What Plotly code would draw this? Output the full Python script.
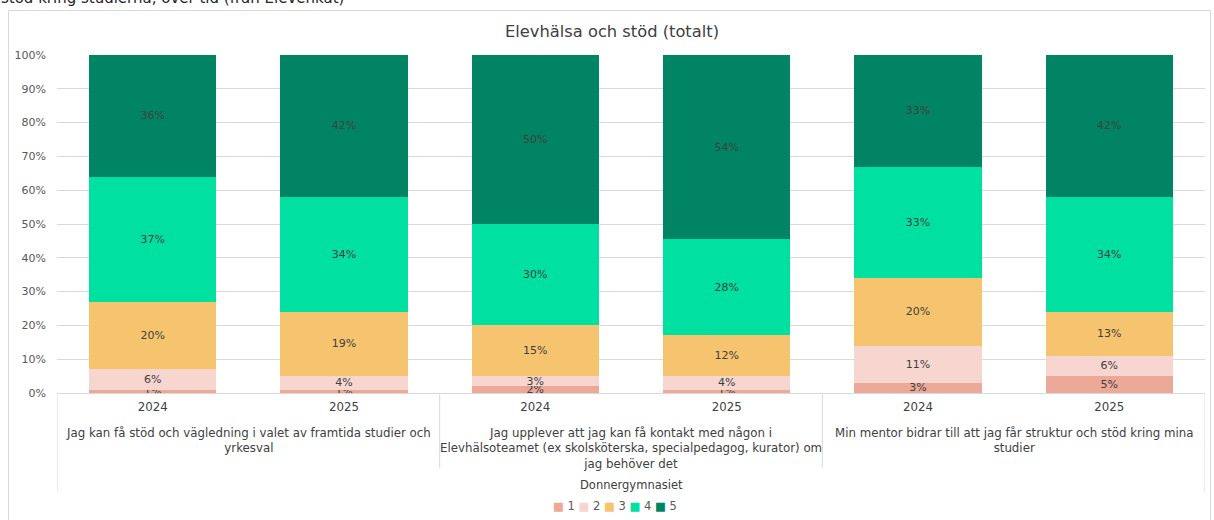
import plotly.graph_objects as go

# ---- data ----
years = ["2024", "2025", "2024", "2025", "2024", "2025"]
questions = [
    "Jag kan få stöd och vägledning i valet av framtida studier och<br>yrkesval",
    "Jag upplever att jag kan få kontakt med någon i<br>Elevhälsoteamet (ex skolsköterska, specialpedagog, kurator) om<br>jag behöver det",
    "Min mentor bidrar till att jag får struktur och stöd kring mina<br>studier",
]
school = "Donnergymnasiet"
series_names = ["1", "2", "3", "4", "5"]
v1 = [1, 1, 2, 1, 3, 5]
v2 = [6, 4, 3, 4, 11, 6]
v3 = [20, 19, 15, 12, 20, 13]
v4 = [37, 34, 30, 28, 33, 34]
v5 = [36, 42, 50, 54, 33, 42]
values = [v1, v2, v3, v4, v5]
colors = ["#EDA998", "#F8D6D0", "#F6C46E", "#00E0A0", "#008464"]
chart_title = "Elevhälsa och stöd (totalt)"
page_heading = "stöd kring studierna, över tid (från Elevenkät)"

FONT = "DejaVu Sans"
W, H = 1214, 520
L, R, T, B = 57, 9, 55, 127
PW, PH = W - L - R, H - T - B

def px_x(p):
    return (p - L) / PW

def px_y(p):
    return (H - B - p) / PH

xs = list(range(len(years)))
fig = go.Figure()
for name, vals, col in zip(series_names, values, colors):
    fig.add_trace(go.Bar(
        x=xs, y=vals, name=name, marker=dict(color=col, line=dict(width=0)),
        text=[f"{v}%" for v in vals], textposition="inside", insidetextanchor="middle",
        textangle=0, textfont=dict(family=FONT, size=11, color="#404040"),
        hoverinfo="skip", showlegend=False,
    ))

shapes = []
for gx, bottom in [(-0.5, 492), (1.5, 468), (3.5, 468), (5.5, 492)]:
    shapes.append(dict(type="line", xref="x", yref="paper", x0=gx, x1=gx,
                       y0=0, y1=px_y(bottom), line=dict(color="#D9D9D9", width=1)))
shapes.append(dict(type="rect", xref="paper", yref="paper",
                   x0=px_x(8.5), x1=px_x(1210.5), y0=px_y(530), y1=px_y(10.5),
                   line=dict(color="#D9D9D9", width=1), fillcolor="rgba(0,0,0,0)", layer="below"))

annotations = []
for i, q in enumerate(questions):
    annotations.append(dict(x=2 * i + 0.5, xref="x", y=px_y(424), yref="paper",
                            text=q, showarrow=False, yanchor="top", xanchor="center",
                            align="center", font=dict(family=FONT, size=11.8, color="#404040")))
annotations.append(dict(x=2.5, xref="x", y=px_y(485), yref="paper", text=school,
                        showarrow=False, yanchor="middle", font=dict(family=FONT, size=11.5, color="#404040")))
annotations.append(dict(x=px_x(612), xref="paper", y=px_y(31), yref="paper", text=chart_title,
                        showarrow=False, yanchor="middle", font=dict(family=FONT, size=16.3, color="#404040")))
annotations.append(dict(x=px_x(-1), xref="paper", xanchor="left", y=px_y(-2), yref="paper",
                        text=page_heading, showarrow=False, yanchor="middle",
                        font=dict(family=FONT, size=15, color="#262626")))
# legend drawn as text with coloured squares
legend_text = "&nbsp;".join(
    f"<span style='color:{c}'>■</span>&nbsp;{n}" for n, c in zip(series_names, colors))
annotations.append(dict(x=px_x(615), xref="paper", y=px_y(506), yref="paper", text=legend_text,
                        showarrow=False, xanchor="center", yanchor="middle",
                        font=dict(family=FONT, size=11.5, color="#595959")))

fig.update_layout(
    width=W, height=H, barmode="stack", barnorm="percent", bargap=0.335,
    margin=dict(l=L, r=R, t=T, b=B, autoexpand=False),
    paper_bgcolor="white", plot_bgcolor="white",
    font=dict(family=FONT, color="#595959"),
    uniformtext=dict(minsize=11, mode="show"),
    shapes=shapes, annotations=annotations, showlegend=False,
    xaxis=dict(range=[-0.5, 5.5], tickmode="array", tickvals=xs, ticktext=years,
               showgrid=False, showline=True, linecolor="#D9D9D9", ticks="",
               ticklabelstandoff=3,
               tickfont=dict(family=FONT, size=11.8, color="#404040"), fixedrange=True),
    yaxis=dict(range=[0, 100], tickvals=[0, 10, 20, 30, 40, 50, 60, 70, 80, 90, 100],
               ticktext=[f"{v}%" for v in range(0, 101, 10)], gridcolor="#D9D9D9",
               zeroline=False, showline=False, ticks="", ticklabelstandoff=10,
               tickfont=dict(family=FONT, size=11, color="#595959"), fixedrange=True),
)

fig.write_html("out.html", config={"displayModeBar": False},
               post_script="document.body.style.margin='0';")
